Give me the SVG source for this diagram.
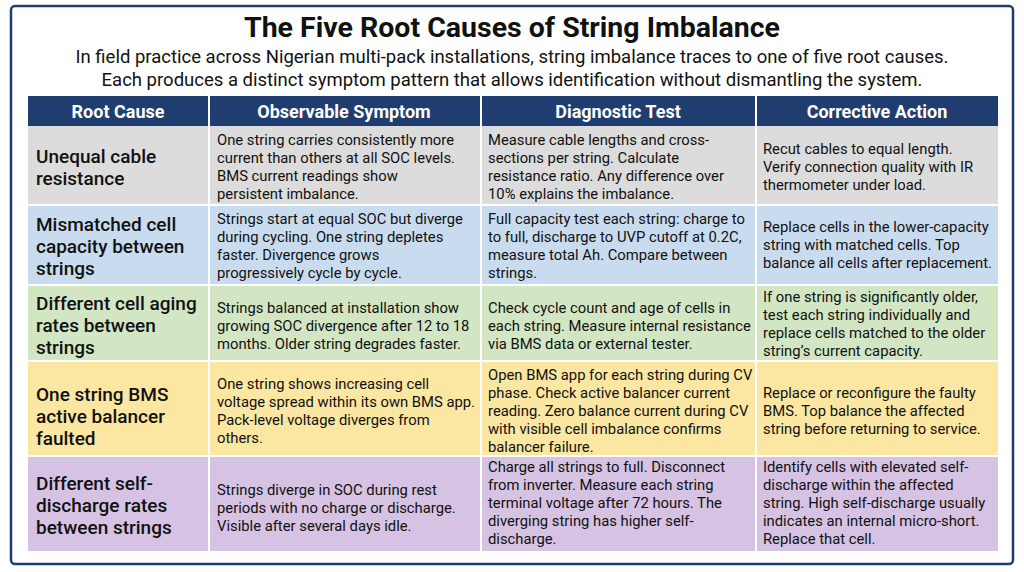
<svg xmlns="http://www.w3.org/2000/svg" width="1024" height="572" viewBox="0 0 1024 572">
<style>
.t{font-family:Roboto,"Liberation Sans",sans-serif;fill:#111}
.h{font-family:Roboto,"Liberation Sans",sans-serif;fill:#fff;font-weight:bold;font-size:18px;text-anchor:middle}
.rc{font-size:19px;font-weight:500}
.c{font-size:14.8px}
.sep{stroke:#fff;stroke-width:2}
</style>
<rect width="1024" height="572" fill="#fff"/>
<rect x="11" y="6" width="1002" height="558" rx="4" fill="#fff" stroke="#1f3d6e" stroke-width="2.5"/>
<text class="t" x="512" y="37" text-anchor="middle" font-size="28.5" font-weight="bold">The Five Root Causes of String Imbalance</text>
<text class="t" x="512" y="63" text-anchor="middle" font-size="18.5">In field practice across Nigerian multi-pack installations, string imbalance traces to one of five root causes.</text>
<text class="t" x="512" y="86" text-anchor="middle" font-size="18.5">Each produces a distinct symptom pattern that allows identification without dismantling the system.</text>
<g id="header">
<rect x="28" y="96" width="970" height="30" fill="#1f3d6e"/>
<text class="h" x="118" y="118">Root Cause</text>
<text class="h" x="344" y="118">Observable Symptom</text>
<text class="h" x="618" y="118">Diagnostic Test</text>
<text class="h" x="877" y="118">Corrective Action</text>
</g>
<g id="row1">
<rect x="28" y="126" width="970" height="79" fill="#dcdcdc"/>
<text class="t rc"><tspan x="36" y="163">Unequal cable</tspan><tspan x="36" y="185">resistance</tspan></text>
<text class="t c"><tspan x="217" y="145">One string carries consistently more</tspan><tspan x="217" y="163">current than others at all SOC levels.</tspan><tspan x="217" y="181">BMS current readings show</tspan><tspan x="217" y="199">persistent imbalance.</tspan></text>
<text class="t c"><tspan x="488" y="145">Measure cable lengths and cross-</tspan><tspan x="488" y="163">sections per string. Calculate</tspan><tspan x="488" y="181">resistance ratio. Any difference over</tspan><tspan x="488" y="199">10% explains the imbalance.</tspan></text>
<text class="t c"><tspan x="763" y="154">Recut cables to equal length.</tspan><tspan x="763" y="172">Verify connection quality with IR</tspan><tspan x="763" y="190">thermometer under load.</tspan></text>
</g>
<g id="row2">
<rect x="28" y="205" width="970" height="80" fill="#c9dcef"/>
<text class="t rc"><tspan x="36" y="231">Mismatched cell</tspan><tspan x="36" y="253">capacity between</tspan><tspan x="36" y="275">strings</tspan></text>
<text class="t c"><tspan x="217" y="224">Strings start at equal SOC but diverge</tspan><tspan x="217" y="242">during cycling. One string depletes</tspan><tspan x="217" y="260">faster. Divergence grows</tspan><tspan x="217" y="278">progressively cycle by cycle.</tspan></text>
<text class="t c"><tspan x="488" y="224">Full capacity test each string: charge to</tspan><tspan x="488" y="242">to full, discharge to UVP cutoff at 0.2C,</tspan><tspan x="488" y="260">measure total Ah. Compare between</tspan><tspan x="488" y="278">strings.</tspan></text>
<text class="t c"><tspan x="763" y="232">Replace cells in the lower-capacity</tspan><tspan x="763" y="250">string with matched cells. Top</tspan><tspan x="763" y="268">balance all cells after replacement.</tspan></text>
</g>
<g id="row3">
<rect x="28" y="285" width="970" height="76" fill="#d3e6c4"/>
<text class="t rc"><tspan x="36" y="310">Different cell aging</tspan><tspan x="36" y="332">rates between</tspan><tspan x="36" y="354">strings</tspan></text>
<text class="t c"><tspan x="217" y="313">Strings balanced at installation show</tspan><tspan x="217" y="331">growing SOC divergence after 12 to 18</tspan><tspan x="217" y="349">months. Older string degrades faster.</tspan></text>
<text class="t c"><tspan x="488" y="313">Check cycle count and age of cells in</tspan><tspan x="488" y="331">each string. Measure internal resistance</tspan><tspan x="488" y="349">via BMS data or external tester.</tspan></text>
<text class="t c"><tspan x="763" y="302">If one string is significantly older,</tspan><tspan x="763" y="320">test each string individually and</tspan><tspan x="763" y="338">replace cells matched to the older</tspan><tspan x="763" y="356">string’s current capacity.</tspan></text>
</g>
<g id="row4">
<rect x="28" y="361" width="970" height="95" fill="#fbe6a2"/>
<text class="t rc"><tspan x="36" y="401">One string BMS</tspan><tspan x="36" y="423">active balancer</tspan><tspan x="36" y="445">faulted</tspan></text>
<text class="t c"><tspan x="217" y="389">One string shows increasing cell</tspan><tspan x="217" y="407">voltage spread within its own BMS app.</tspan><tspan x="217" y="425">Pack-level voltage diverges from</tspan><tspan x="217" y="443">others.</tspan></text>
<text class="t c"><tspan x="488" y="380">Open BMS app for each string during CV</tspan><tspan x="488" y="398">phase. Check active balancer current</tspan><tspan x="488" y="416">reading. Zero balance current during CV</tspan><tspan x="488" y="434">with visible cell imbalance confirms</tspan><tspan x="488" y="452">balancer failure.</tspan></text>
<text class="t c"><tspan x="763" y="398">Replace or reconfigure the faulty</tspan><tspan x="763" y="416">BMS. Top balance the affected</tspan><tspan x="763" y="434">string before returning to service.</tspan></text>
</g>
<g id="row5">
<rect x="28" y="456" width="970" height="95" fill="#d6c3e3"/>
<text class="t rc"><tspan x="36" y="490">Different self-</tspan><tspan x="36" y="512">discharge rates</tspan><tspan x="36" y="534">between strings</tspan></text>
<text class="t c"><tspan x="217" y="495">Strings diverge in SOC during rest</tspan><tspan x="217" y="513">periods with no charge or discharge.</tspan><tspan x="217" y="531">Visible after several days idle.</tspan></text>
<text class="t c"><tspan x="488" y="472">Charge all strings to full. Disconnect</tspan><tspan x="488" y="490">from inverter. Measure each string</tspan><tspan x="488" y="508">terminal voltage after 72 hours. The</tspan><tspan x="488" y="526">diverging string has higher self-</tspan><tspan x="488" y="544">discharge.</tspan></text>
<text class="t c"><tspan x="763" y="472">Identify cells with elevated self-</tspan><tspan x="763" y="490">discharge within the affected</tspan><tspan x="763" y="508">string. High self-discharge usually</tspan><tspan x="763" y="526">indicates an internal micro-short.</tspan><tspan x="763" y="544">Replace that cell.</tspan></text>
</g>
<g id="grid" class="sep">
<line x1="209" y1="96" x2="209" y2="551"/>
<line x1="481" y1="96" x2="481" y2="551"/>
<line x1="756" y1="96" x2="756" y2="551"/>
<line x1="28" y1="205" x2="998" y2="205"/>
<line x1="28" y1="285" x2="998" y2="285"/>
<line x1="28" y1="361" x2="998" y2="361"/>
<line x1="28" y1="456" x2="998" y2="456"/>
</g>
</svg>
